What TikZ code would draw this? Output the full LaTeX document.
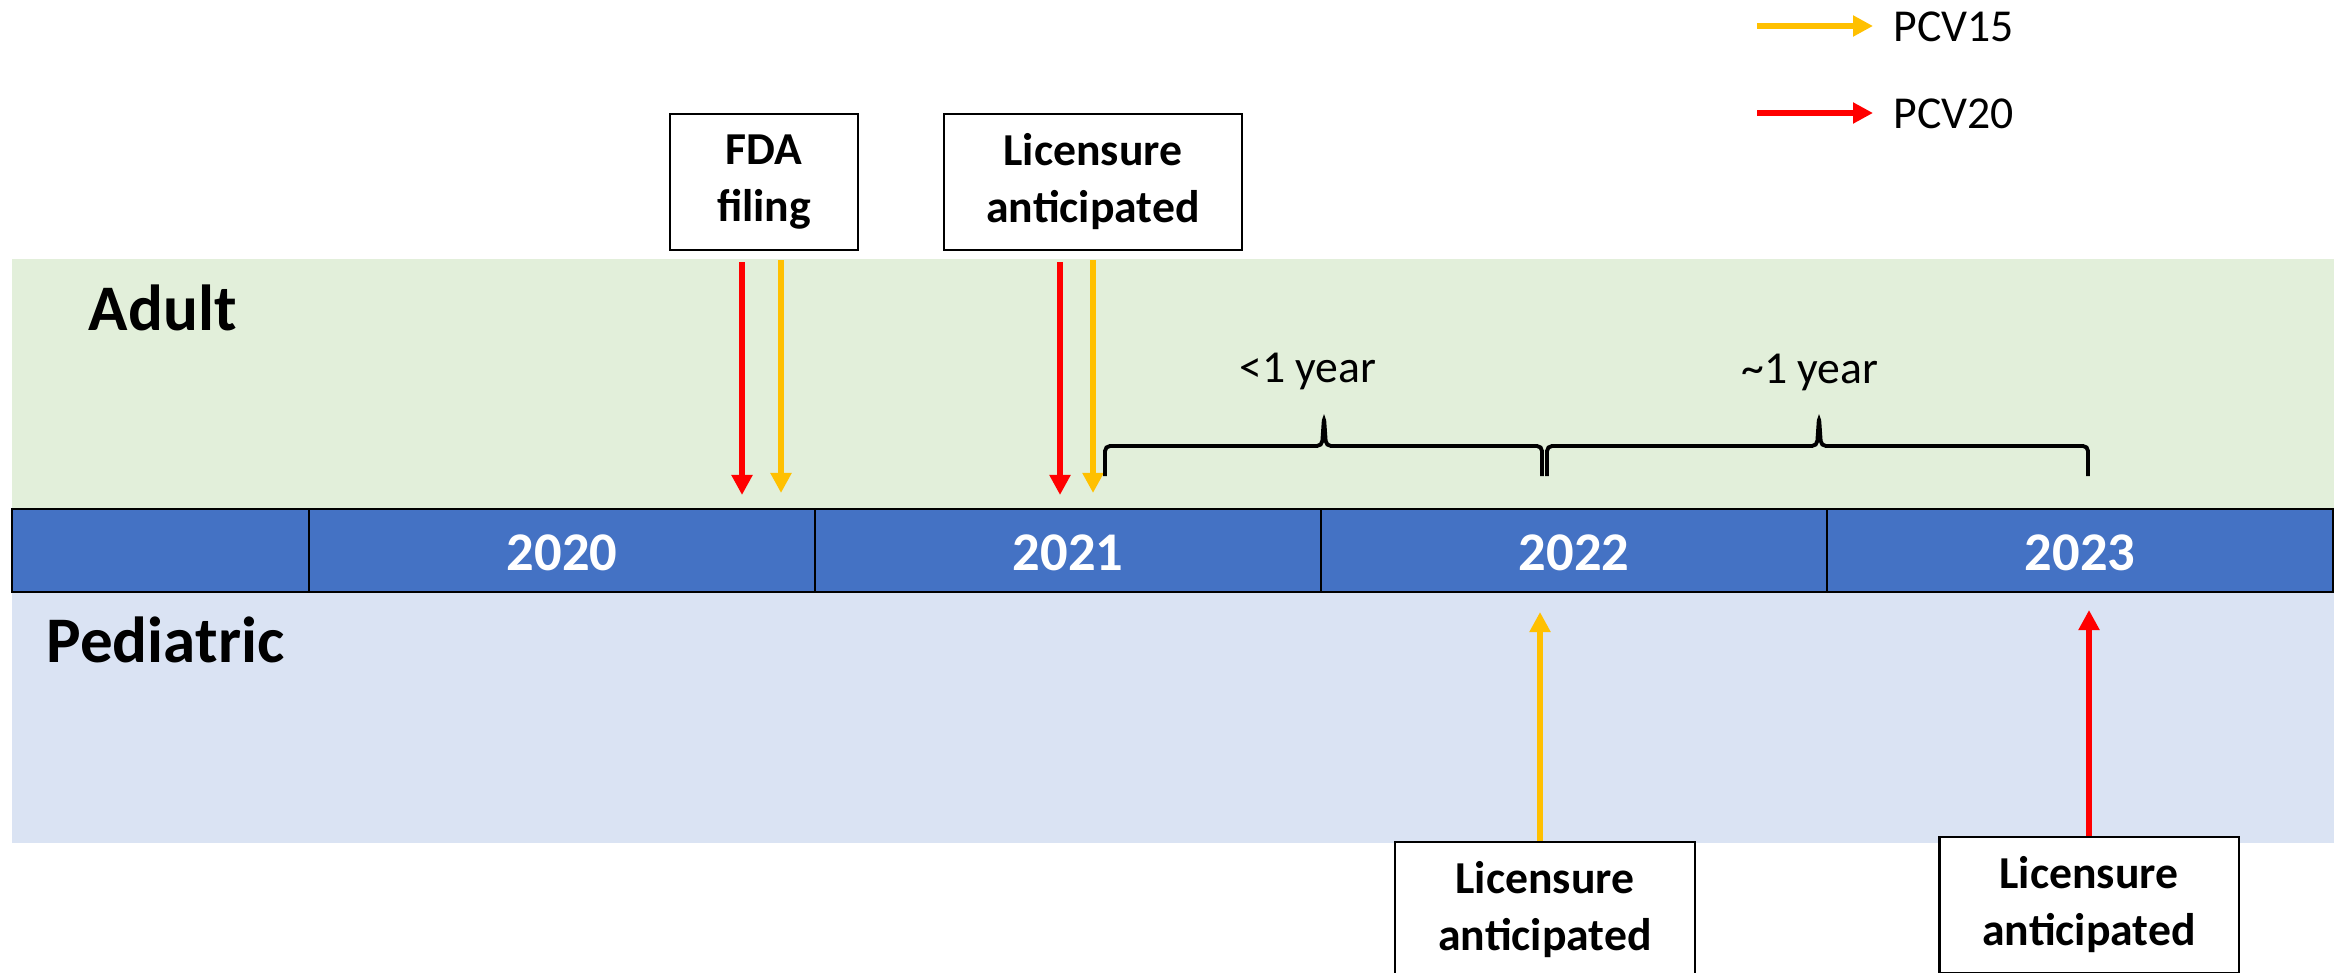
\documentclass[tikz,border=0pt]{standalone}
\usepackage{fontspec}
\setmainfont{Carlito}
\usepackage{xcolor}
\usepackage{tikz}
\usetikzlibrary{arrows.meta}
\definecolor{adultgreen}{HTML}{E2EFDA}
\definecolor{pedblue}{HTML}{DAE3F3}
\definecolor{barblue}{HTML}{4472C4}
\definecolor{pcvyellow}{HTML}{FFC000}
\definecolor{pcvred}{HTML}{FF0000}

\begin{document}
\begin{tikzpicture}[x=0.01cm,y=-0.01cm,
		evbox/.style={draw,line width=0.6pt,fill=white,align=center,minimum height=1.36cm,inner sep=0pt,font=\fontsize{13}{16.2}\selectfont\bfseries},
		yrlabel/.style={text=white,anchor=base,inner sep=0pt,font=\fontsize{15.5}{18}\selectfont\bfseries},
		grouplabel/.style={anchor=base west,inner sep=0pt,font=\fontsize{18.5}{22}\selectfont\bfseries},
		gaplabel/.style={anchor=base,inner sep=0pt,font=\fontsize{13}{16}\selectfont},
		keylabel/.style={anchor=base west,inner sep=0pt,font=\fontsize{13}{16}\selectfont},
		pcvarrow/.style={line width=1.6pt,-{Triangle[length=0.2cm,width=0.2cm]}},
		gapbrace/.style={line width=1.1pt,rounded corners=0.05cm}]
	\useasboundingbox (0,0) rectangle (2349,973);
	\fill[adultgreen] (12,259) rectangle (2334,509);
	\fill[pedblue] (12,592) rectangle (2334,843);
	\draw[fill=barblue,line width=0.8pt] (12,509) rectangle (2333,592);
	\foreach \x in {309,815,1321,1827}
		\draw[line width=0.6pt] (\x,509) -- (\x,592);
	\foreach \yr [count=\i from 0] in {2020,2021,2022,2023}
		\node[yrlabel] (y\yr) at (562+506*\i,570) {\yr};
	\node[grouplabel] (adult) at (88,330) {Adult};
	\node[grouplabel] (pediatric) at (46,662) {Pediatric};

	\node[evbox,minimum width=1.88cm] (fda) at (764,182) {FDA\\filing};
	\node[evbox,minimum width=2.98cm] (licadult) at (1093,182) {Licensure\\anticipated};
	\node[evbox,minimum width=2.99cm] (lic15) at (1545,910) {Licensure\\anticipated};
	\node[evbox,minimum width=2.99cm] (lic20) at (2089,905) {Licensure\\anticipated};

	\coordinate (fdaR) at (742,262);
	\coordinate (fdaRend) at (742,495);
	\coordinate (fdaY) at (781,260);
	\coordinate (fdaYend) at (781,493);
	\coordinate (licR) at (1060,262);
	\coordinate (licRend) at (1060,495);
	\coordinate (licY) at (1093,260);
	\coordinate (licYend) at (1093,493);
	\coordinate (ped15) at (1540,612);
	\coordinate (ped20) at (2089,610);
	\draw[pcvarrow,pcvred] (fdaR) -- (fdaRend);
	\draw[pcvarrow,pcvyellow] (fdaY) -- (fdaYend);
	\draw[pcvarrow,pcvred] (licR) -- (licRend);
	\draw[pcvarrow,pcvyellow] (licY) -- (licYend);
	\draw[pcvarrow,pcvyellow] (lic15.north -| ped15) -- (ped15);
	\draw[pcvarrow,pcvred] (lic20.north) -- (ped20);

	\draw[gapbrace] (1105,476) |- (1322,446) -- (1324,417) -- (1326,446) -| (1542,476);
	\draw[gapbrace] (1547,476) |- (1817,446) -- (1819,417) -- (1821,446) -| (2088,476);
	\node[gaplabel] (lt1) at (1308,382) {<1 year};
	\node[gaplabel] (ap1) at (1810,383) {\textasciitilde1 year};

	\coordinate (k15) at (1757,26);
	\coordinate (k20) at (1757,113);
	\coordinate (k15end) at (1873,26);
	\coordinate (k20end) at (1873,113);
	\node[keylabel] (pcv15) at (1893,42) {PCV15};
	\node[keylabel] (pcv20) at (1893,129) {PCV20};
	\draw[pcvarrow,pcvyellow,line width=1.8pt] (k15) -- (k15end);
	\draw[pcvarrow,pcvred,line width=1.8pt] (k20) -- (k20end);
\end{tikzpicture}
\end{document}
